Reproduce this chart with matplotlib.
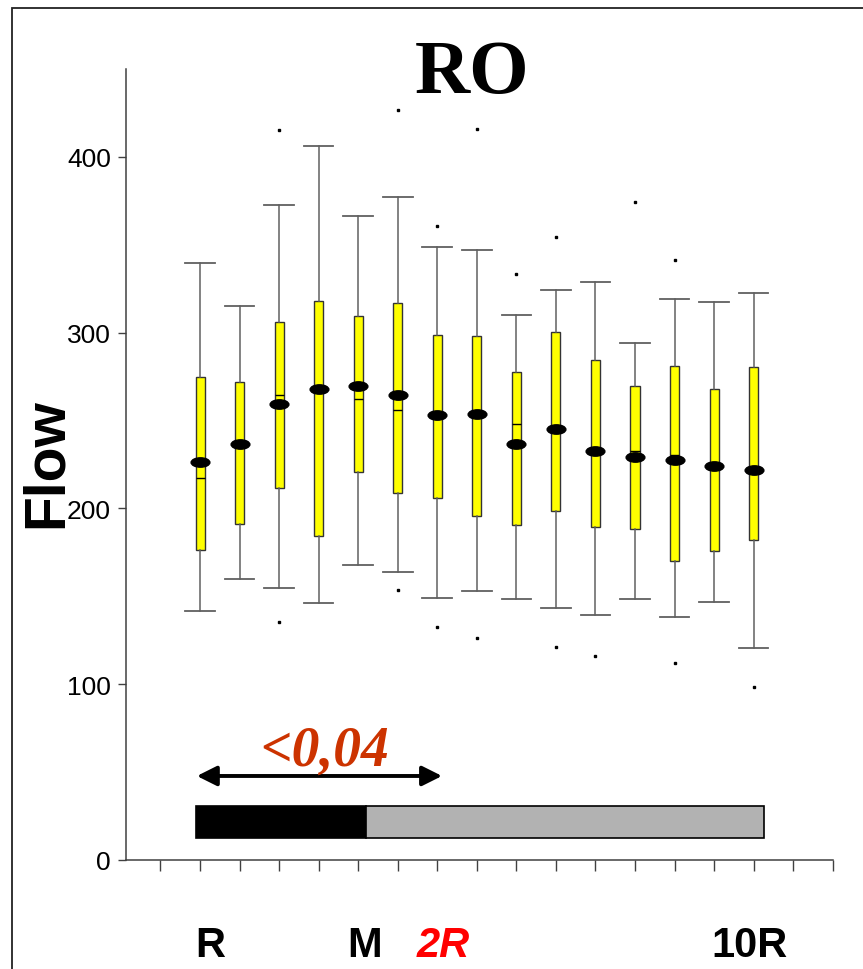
import matplotlib
matplotlib.use("Agg")
import matplotlib.pyplot as plt
from matplotlib.path import Path
from matplotlib.markers import MarkerStyle
from matplotlib.patches import Rectangle
from matplotlib.transforms import Affine2D
from matplotlib import font_manager

# ---- data -------------------------------------------------------------
positions = list(range(1, 16))
whisker_low = [141.9, 159.7, 154.6, 146.3, 167.9, 163.7, 149.1, 152.9, 148.5, 143.4, 139.4, 148.5, 138.3, 147.0, 120.8]
q1 = [176.3, 191.4, 211.5, 184.6, 221.0, 208.7, 206.0, 195.8, 190.4, 198.8, 189.5, 188.2, 170.0, 175.7, 181.9]
medians = [217.6, 236.6, 264.8, 268.2, 262.4, 255.9, 253.0, 253.8, 247.9, 245.0, 232.9, 232.8, 230.5, 223.9, 222.1]
means = [226.3, 236.6, 259.7, 268.2, 269.4, 264.8, 253.0, 253.8, 236.6, 245.0, 232.9, 229.4, 227.7, 223.9, 222.1]
q3 = [274.5, 271.9, 305.9, 318.2, 309.4, 316.8, 298.9, 298.0, 277.7, 300.3, 284.3, 269.5, 281.3, 268.2, 280.7]
whisker_high = [339.8, 315.3, 372.8, 406.0, 366.1, 377.3, 348.9, 347.3, 310.2, 324.4, 328.7, 294.0, 319.3, 317.3, 322.7]
outliers = [[], [], [135.3, 415.5], [], [], [153.4, 426.5], [132.6, 360.4], [126.2, 416.0],
            [333.5], [121.4, 354.6], [116.0], [374.5], [111.9, 341.5], [], [98.5]]

x_labels = ["R", "M", "2R", "10R"]
x_label_pos = [1.25, 5.15, 7.15, 14.9]
x_label_colors = ["black", "black", "red", "black"]
x_label_styles = ["normal", "normal", "italic", "normal"]

period_edges = [0.9, 5.2, 15.27]      # black period, then grey period
period_colors = ["black", "#b2b2b2"]
period_y = (12.4, 30.5)

arrow_span = (0.92, 7.12)
arrow_y = 47.8
p_text = "<0,04"

y_ticks = [0, 100, 200, 300, 400]

# ---- fonts ------------------------------------------------------------
available = {f.name for f in font_manager.fontManager.ttflist}
narrow = "Liberation Sans Narrow" if "Liberation Sans Narrow" in available else "Liberation Sans"
tick_size = 21 if narrow == "Liberation Sans Narrow" else 19

W, H = 863, 970
fig = plt.figure(figsize=(W / 100, H / 100), dpi=100)
ax = fig.add_axes([125.7 / W, 109 / H, (832.7 - 125.7) / W, (861 - 70) / H])

# ---- box plots --------------------------------------------------------
stats = []
for i in range(len(positions)):
    stats.append(dict(whislo=whisker_low[i], q1=q1[i], med=medians[i], mean=means[i],
                      q3=q3[i], whishi=whisker_high[i], fliers=outliers[i]))

ellipse = Path.unit_circle().transformed(Affine2D().scale(1.0, 0.5))
mean_marker = MarkerStyle(ellipse)

ax.bxp(stats, positions=positions, widths=0.228, capwidths=0.75,
       patch_artist=True, showmeans=True, showfliers=True,
       boxprops=dict(facecolor="#ffff00", edgecolor="#333333", linewidth=1.0),
       whiskerprops=dict(color="#606060", linewidth=1.1),
       capprops=dict(color="#606060", linewidth=1.3),
       medianprops=dict(color="black", linewidth=1.0),
       meanprops=dict(marker=mean_marker, markersize=13.5, markerfacecolor="black",
                      markeredgecolor="black", linestyle="none"),
       flierprops=dict(marker="s", markersize=1.6, markerfacecolor="black",
                       markeredgecolor="black", linestyle="none"),
       manage_ticks=False, zorder=3)

# ---- period bar -------------------------------------------------------
for left, right, col in zip(period_edges[:-1], period_edges[1:], period_colors):
    ax.barh((period_y[0] + period_y[1]) / 2, right - left, left=left,
            height=period_y[1] - period_y[0], color=col,
            edgecolor="black", linewidth=1.2, zorder=2)

# ---- significance arrow ---------------------------------------------
ax.annotate("", xy=(arrow_span[0], arrow_y), xytext=(arrow_span[1], arrow_y),
            arrowprops=dict(arrowstyle="<|-|>", color="black", lw=2.8,
                            mutation_scale=30, shrinkA=0, shrinkB=0))
ax.text(sum(arrow_span) / 2 + 0.12, 54, p_text, ha="center", va="baseline",
        fontsize=40, fontfamily="Liberation Serif", fontweight="bold",
        fontstyle="italic", color="#cc3300")

# ---- axes -------------------------------------------------------------
ax.set_xlim(-0.88, 17)
ax.set_ylim(0, 450)
for s in ("top", "right"):
    ax.spines[s].set_visible(False)
for s in ("left", "bottom"):
    ax.spines[s].set_color("#404040")
    ax.spines[s].set_linewidth(1.1)

ax.set_xticks(range(0, 18))
ax.set_xticklabels([])
ax.tick_params(axis="x", direction="out", length=8, width=1.0, color="#404040")
ax.set_yticks(y_ticks)
ax.set_yticklabels([str(v) for v in y_ticks], fontfamily=narrow, fontsize=tick_size)
ax.tick_params(axis="y", direction="out", length=5.5, width=1.0, color="#404040", pad=5)

for lab, xp, col, sty in zip(x_labels, x_label_pos, x_label_colors, x_label_styles):
    ax.text(xp, -54.5, lab, ha="center", va="baseline", fontsize=30,
            fontfamily="Liberation Sans", fontweight="bold", fontstyle=sty,
            color=col, clip_on=False)

# ---- title and y label ------------------------------------------------
fig.text(472.5 / W, 1 - 92.7 / H, "RO", ha="center", va="baseline",
         fontsize=55, fontfamily="Liberation Serif", fontweight="bold")
fig.text(61.5 / W, 1 - 463 / H, "Flow", rotation=90, rotation_mode="anchor",
         ha="center", va="baseline", fontsize=41,
         fontfamily="Liberation Sans", fontweight="bold")

# ---- outer frame ------------------------------------------------------
fig.patches.append(Rectangle((11.7 / W, -0.1), 1.2, 1 - 9 / H + 0.1,
                             transform=fig.transFigure, fill=False,
                             edgecolor="#222222", linewidth=1.3))

fig.savefig("out.png", dpi=100)
